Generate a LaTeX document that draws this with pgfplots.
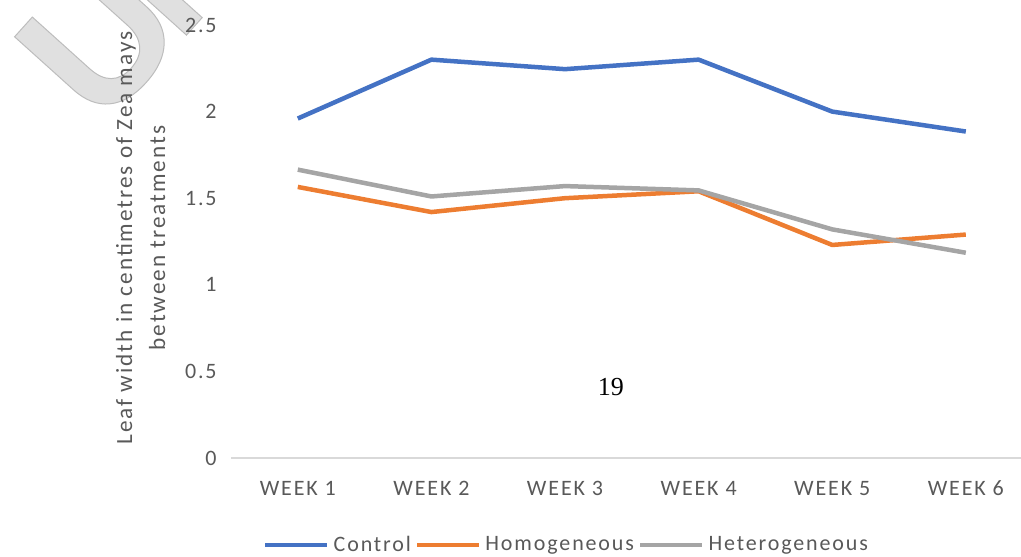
\documentclass[border=0pt]{standalone}
\usepackage{pgfplots}
\pgfplotsset{compat=1.18}
\usepackage{fontspec}
\setmainfont{Carlito}[LetterSpace=8.5]
\newfontfamily\seriffont{Liberation Serif}
\newfontfamily\wmfont{Liberation Sans}
\definecolor{cblue}{HTML}{4472C4}
\definecolor{corange}{HTML}{ED7D31}
\definecolor{cgray}{HTML}{A5A5A5}
\definecolor{txt}{HTML}{595959}
\begin{document}
\begin{tikzpicture}
\path[use as bounding box] (-115.5pt,-49pt) rectangle (395pt,229pt);
\begin{scope}
\node[rotate=48, anchor=base west, inner sep=0pt, text=black!12,
  font=\wmfont\bfseries\fontsize{92}{92}\selectfont] at (-65pt,164pt)
  {\special{pdf:literal direct 2 Tr 0.5 w 0.74 G}U\kern-9pt N\special{pdf:literal direct 0 Tr}};
\end{scope}
\begin{axis}[
  scale only axis, width=395pt, height=216.5pt,
  xmin=-0.5, xmax=5.413, ymin=0, ymax=2.5,
  xtick={0,1,2,3,4,5},
  xticklabels={WEEK 1,WEEK 2,WEEK 3,WEEK 4,WEEK 5,WEEK 6},
  ytick={0,0.5,1,1.5,2,2.5},
  yticklabels={0,0.5,1,1.5,2,2.5},
  axis x line*=bottom, axis y line*=left,
  y axis line style={draw=none},
  x axis line style={draw=black!15, line width=0.75pt},
  major tick length=0pt, tick style={draw=none},
  ticklabel style={font=\fontsize{11}{13}\selectfont, text=txt},
  xticklabel style={anchor=base, inner sep=0pt, yshift=-18.5pt},
  yticklabel style={anchor=east, inner sep=0pt, xshift=-7pt},
  ylabel={Leaf width in centimetres of Zea mays\\between treatments},
  ylabel style={at={(axis description cs:-0.1145,0.508)}, anchor=center, align=center,
    font=\fontsize{11.6}{16.5}\selectfont, text=txt},
  legend style={at={(axis description cs:0.426,-0.201)}, anchor=center, draw=none,
    fill=none, legend columns=3, font=\fontsize{11}{13}\selectfont, text=txt,
    /tikz/every even column/.append style={column sep=0pt}},
  legend image code/.code={\draw[#1, line width=2.25pt] (0pt,0pt) -- (31pt,0pt);},
  every axis plot/.append style={line width=2.25pt, mark=none, line join=round},
  clip=false,
]
\addplot[cblue] coordinates {(0,1.96) (1,2.30) (2,2.245) (3,2.30) (4,2.00) (5,1.885)};
\addlegendentry{Control}
\addplot[corange] coordinates {(0,1.565) (1,1.42) (2,1.50) (3,1.54) (4,1.23) (5,1.29)};
\addlegendentry{Homogeneous}
\addplot[cgray] coordinates {(0,1.665) (1,1.51) (2,1.57) (3,1.545) (4,1.32) (5,1.185)};
\addlegendentry{Heterogeneous}
\node[font=\seriffont\fontsize{13}{15}\selectfont] at (axis cs:2.344,0.41) {19};
\end{axis}
\end{tikzpicture}
\end{document}
